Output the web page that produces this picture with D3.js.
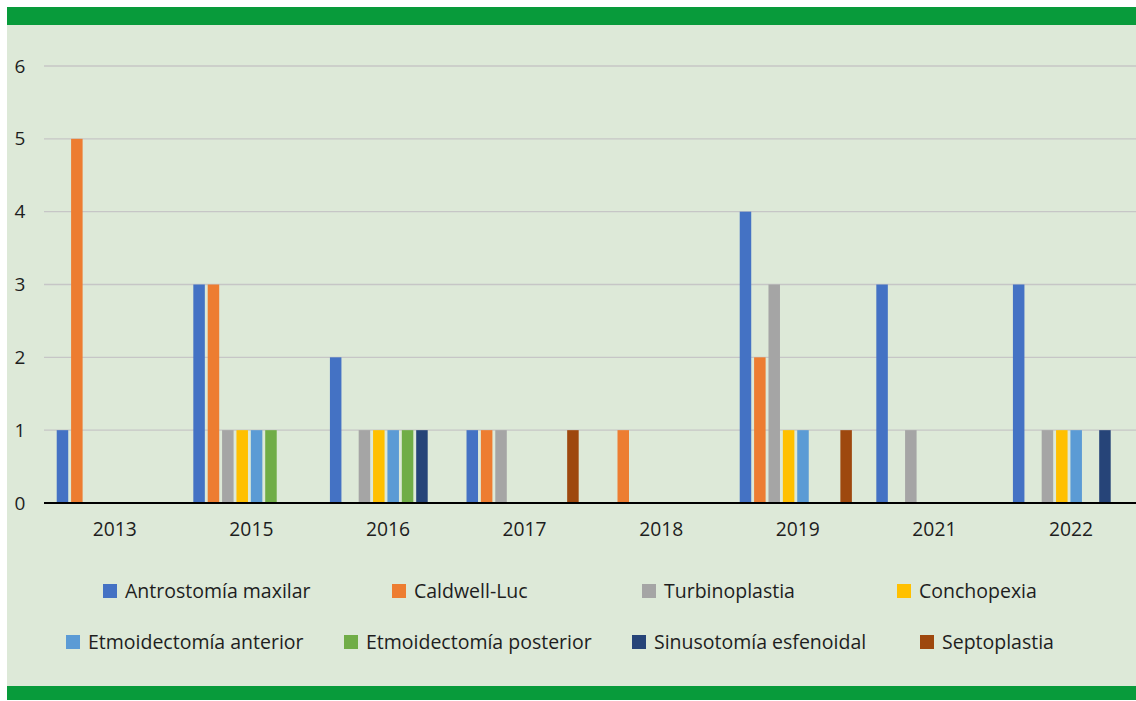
<!DOCTYPE html>
<html>
<head>
<meta charset="utf-8">
<script src="https://cdn.jsdelivr.net/npm/d3@7"></script>
<style>
body{margin:0;background:#fff;}
text{font-family:"Open Sans",sans-serif;fill:#1e1e1e;}
</style>
</head>
<body>
<div id="chart"></div>
<script>
// data
var years = ["2013","2015","2016","2017","2018","2019","2021","2022"];
var series = ["Antrostomía maxilar","Caldwell-Luc","Turbinoplastia","Conchopexia",
  "Etmoidectomía anterior","Etmoidectomía posterior","Sinusotomía esfenoidal","Septoplastia"];
var antrostomia   = [1,3,2,1,0,4,3,3];
var caldwell      = [5,3,0,1,1,2,0,0];
var turbinoplastia= [0,1,1,1,0,3,1,1];
var conchopexia   = [0,1,1,0,0,1,0,1];
var etmoAnterior  = [0,1,1,0,0,1,0,1];
var etmoPosterior = [0,1,1,0,0,0,0,0];
var sinusotomia   = [0,0,1,0,0,0,0,1];
var septoplastia  = [0,0,0,1,0,1,0,0];
var yTicks = [0,1,2,3,4,5,6];

var values = [antrostomia,caldwell,turbinoplastia,conchopexia,etmoAnterior,etmoPosterior,sinusotomia,septoplastia];
var colors = ["#4472C4","#ED7D31","#A5A5A5","#FFC000","#5B9BD5","#70AD47","#264478","#9E480E"];

var w = 1136, h = 701;
var svg = d3.select("#chart").append("svg").attr("width",w).attr("height",h);

// frame
svg.append("rect").attr("x",7).attr("y",7).attr("width",w-7).attr("height",687).attr("fill","#dde9d8");
svg.append("rect").attr("x",7).attr("y",7).attr("width",w-7).attr("height",18).attr("fill","#089b3b");
svg.append("rect").attr("x",7).attr("y",686).attr("width",w-7).attr("height",14).attr("fill","#089b3b");

var x0 = d3.scaleBand().domain(years).range([44.5,1137.3]);
var x1 = d3.scaleBand().domain(series).range([0,x0.bandwidth()]).paddingInner(0.2).paddingOuter(0.85);
var y = d3.scaleLinear().domain([0,6]).range([503,66]);

// grid
svg.append("g").selectAll("line").data(yTicks.slice(1)).enter().append("line")
  .attr("x1",44).attr("x2",w)
  .attr("y1",d=>y(d)).attr("y2",d=>y(d))
  .attr("stroke","#c6c6c6").attr("stroke-width",1.3);

svg.append("g").selectAll("text").data(yTicks).enter().append("text")
  .attr("x",20).attr("y",d=>y(d)).attr("dy","0.35em")
  .attr("text-anchor","middle").attr("font-size",19)
  .text(d=>d);

// bars
var groups = svg.append("g").selectAll("g").data(years).enter().append("g")
  .attr("transform",d=>"translate("+x0(d)+",0)");
groups.selectAll("rect").data((d,i)=>series.map((s,j)=>({s:s,v:values[j][i],c:colors[j]})))
  .enter().filter(d=>d.v>0).append("rect")
  .attr("x",d=>x1(d.s)).attr("width",x1.bandwidth())
  .attr("y",d=>y(d.v)).attr("height",d=>y(0)-y(d.v))
  .attr("fill",d=>d.c);

// x axis
svg.append("line").attr("x1",44).attr("x2",w).attr("y1",y(0)).attr("y2",y(0))
  .attr("stroke","#000").attr("stroke-width",2);
svg.append("g").selectAll("text").data(years).enter().append("text")
  .attr("x",d=>x0(d)+x0.bandwidth()/2+2).attr("y",536)
  .attr("text-anchor","middle").attr("font-size",19.3)
  .text(d=>d);

// legend
var legendX = [103,392,642,897,66,344,632,920];
var legendY = [591,591,591,591,642,642,642,642];
var leg = svg.append("g").selectAll("g").data(series).enter().append("g")
  .attr("transform",(d,i)=>"translate("+legendX[i]+","+legendY[i]+")");
leg.append("rect").attr("x",0).attr("y",-7).attr("width",14).attr("height",14)
  .attr("fill",(d,i)=>colors[i]);
leg.append("text").attr("x",22).attr("y",0).attr("dy","0.35em")
  .attr("font-size",19.5).text(d=>d);
</script>
</body>
</html>
